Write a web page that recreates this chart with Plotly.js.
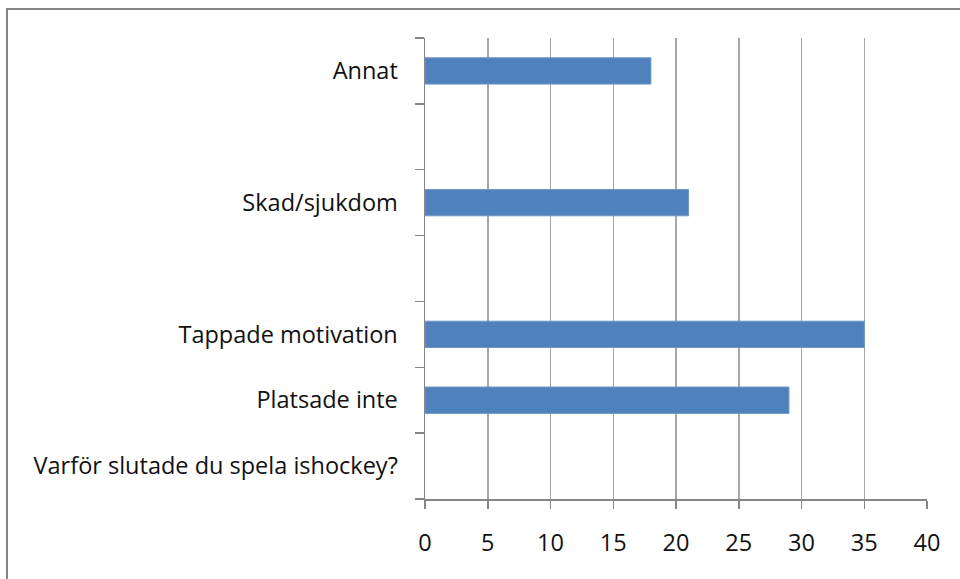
<!DOCTYPE html>
<html>
<head>
<meta charset="utf-8">
<script src="https://cdn.plot.ly/plotly-3.0.1.min.js"></script>
<style>
  html, body { margin: 0; padding: 0; background: #fff; }
  #wrap { position: relative; width: 960px; height: 579px; overflow: hidden; }
  #chart { position: absolute; left: 0; top: 0; width: 960px; height: 579px; }
  #frame { position: absolute; left: 6px; top: 8px; width: 1000px; height: 700px;
           border-left: 2px solid #868686; border-top: 2px solid #868686; pointer-events: none; }
</style>
</head>
<body>
<div id="wrap">
  <div id="chart"></div>
  <div id="frame"></div>
</div>
<script>
// Categories bottom-to-top (blank slots are empty categories in the original)
const categories = [
  "Varför slutade du spela ishockey?",
  "Platsade inte",
  "Tappade motivation",
  " ",
  "Skad/sjukdom",
  "  ",
  "Annat"
];
const values = [null, 29, 35, null, 21, null, 18];
const xTicks = [0, 5, 10, 15, 20, 25, 30, 35, 40];

const FONT = "'Open Sans', Lato, sans-serif";

const trace = {
  type: "bar",
  orientation: "h",
  y: categories,
  x: values,
  marker: { color: "#4F81BD", line: { color: "#6E97CA", width: 1 } },
  hoverinfo: "x+y"
};

const layout = {
  width: 960,
  height: 579,
  margin: { l: 425, r: 33, t: 38, b: 80, pad: 0 },
  paper_bgcolor: "#ffffff",
  plot_bgcolor: "#ffffff",
  showlegend: false,
  bargap: 0.6,
  font: { family: FONT, size: 23.5, color: "#111111" },
  xaxis: {
    range: [0, 40],
    tickvals: xTicks,
    ticktext: xTicks.map(String),
    showgrid: true,
    gridcolor: "#A6A6A6",
    gridwidth: 1.5,
    zeroline: false,
    showline: true,
    linecolor: "#868686",
    linewidth: 1.5,
    ticks: "outside",
    ticklen: 8,
    tickwidth: 1.5,
    tickcolor: "#868686",
    ticklabelstandoff: 14,
    tickfont: { family: FONT, size: 23.5, color: "#111111" },
    fixedrange: true
  },
  yaxis: {
    type: "category",
    categoryorder: "array",
    categoryarray: categories,
    range: [-0.5, categories.length - 0.5],
    tickson: "boundaries",
    ticks: "outside",
    ticklen: 9,
    tickwidth: 1.5,
    tickcolor: "#868686",
    showgrid: false,
    zeroline: false,
    showline: true,
    linecolor: "#868686",
    linewidth: 1.5,
    ticklabelstandoff: 21,
    tickfont: { family: FONT, size: 23.5, color: "#111111" },
    fixedrange: true
  }
};

Plotly.newPlot("chart", [trace], layout, { displayModeBar: false, staticPlot: true });
</script>
</body>
</html>
